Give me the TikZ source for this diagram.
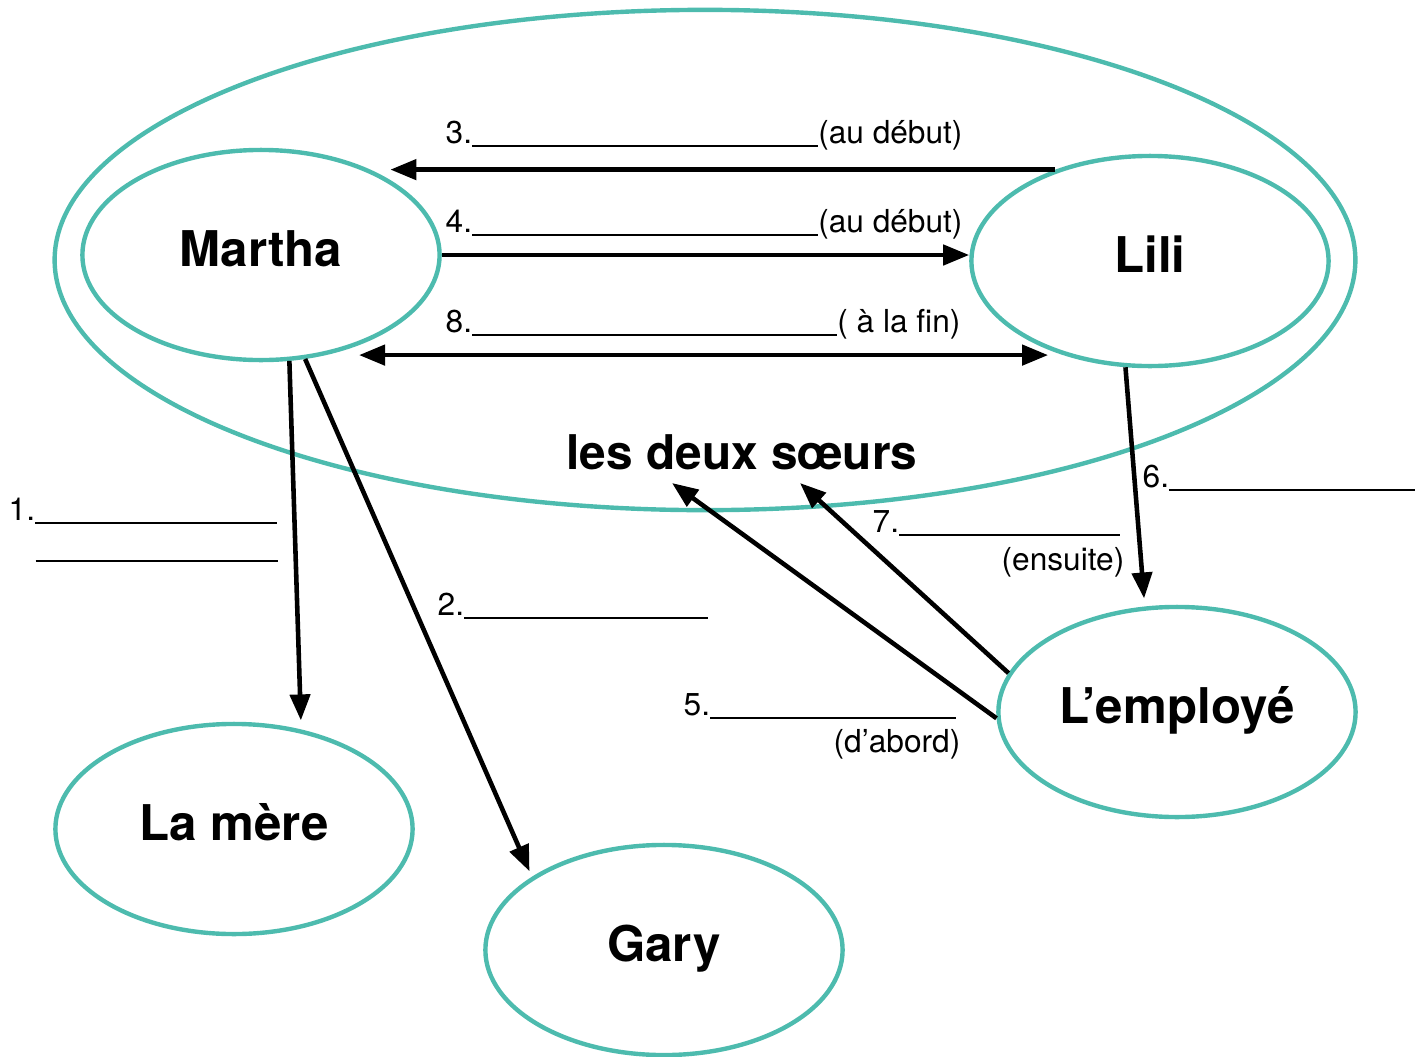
\documentclass[tikz,border=0pt]{standalone}
\usepackage{fontspec}
\setmainfont{TeX Gyre Heros}
\usetikzlibrary{arrows.meta}
\usetikzlibrary{shapes.geometric}
\usetikzlibrary{calc}
\definecolor{ringteal}{RGB}{77,187,174}
\newcommand{\blank}[1]{\rule[-1pt]{#1}{0.5pt}}
\tikzset{
    person/.style={ellipse, draw=ringteal, line width=1.25pt, minimum width=3.57cm, minimum height=2.1cm, inner sep=0pt, text height=10pt, text depth=3.2pt, font=\fontsize{14}{16}\selectfont\bfseries},
    rel/.style={line width=1.3pt, ->},
    answer/.style={font=\fontsize{9}{11}\selectfont, inner sep=0pt, anchor=base west},
    >={Triangle[length=0.26cm, width=0.2cm]}
}

\begin{document}
\begin{tikzpicture}[x=0.01cm, y=-0.01cm]
    \useasboundingbox (0,0) rectangle (1423,1057);
    % the two sisters
    \draw [ringteal, line width=1.25pt] (705,260) ellipse (6.5cm and 2.5cm);
    \node [inner sep=0pt, font=\fontsize{13.6}{16}\selectfont\bfseries] (soeurs) at (742,452) {les deux sœurs};
    % people
    \node [person] (Martha) at (261,255) {Martha};
    \node [person] (Lili) at (1150,261) {Lili};
    \node [person] (LaMere) at (234,829) {La mère};
    \node [person] (Gary) at (664,950) {Gary};
    \node [person] (Employe) at (1177,712) {L’employé};
    % between Martha and Lili
    \draw [rel, shorten >=0.2cm] (Lili.136) -- (Lili.136 -| Martha.38);
    \node [answer] (q3) at (445,143) {3.\blank{3.46cm}(au début)};
    \draw [rel] (Martha.east) -- (Martha.east -| Lili.west);
    \node [answer] (q4) at (445,232) {4.\blank{3.46cm}(au début)};
    \draw [rel, <->, shorten <=0.33cm, shorten >=0.12cm] (Martha.-57) -- (Martha.-57 -| Lili.226);
    \node [answer] (q8) at (445,332) {8.\blank{3.65cm}( à la fin)};
    % Martha to her mother and Gary
    \draw [rel, shorten >=0.09cm] (Martha.-75) -- (LaMere.56);
    \node [answer] (q1) at (8,520) {1.\blank{2.42cm}};
    \node [answer] (q1b) at (35,558) {\blank{2.42cm}};
    \draw [rel, shorten >=0.06cm] (Martha.-67) -- (Gary.151);
    \node [answer] (q2) at (437,615) {2.\blank{2.44cm}};
    % Lili to the employee
    \draw [rel, shorten >=0.08cm] (Lili.-103) -- (Employe.107);
    \node [answer] (q6) at (1142,487) {6.\blank{2.46cm}};
    % the employee to the sisters
    \coordinate (s5) at (672,483);
    \coordinate (s7) at (800,483);
    \draw [rel] (Employe.182) -- (s5);
    \node [answer] (q5) at (683,715) {5.\blank{2.46cm}};
    \node [answer, anchor=base east] (q5t) at (961,752) {(d’abord)};
    \draw [rel] (Employe.167) -- (s7);
    \node [answer] (q7) at (872,532) {7.\blank{2.21cm}};
    \node [answer, anchor=base east] (q7t) at (1125,570) {(ensuite)};
\end{tikzpicture}
\end{document}
